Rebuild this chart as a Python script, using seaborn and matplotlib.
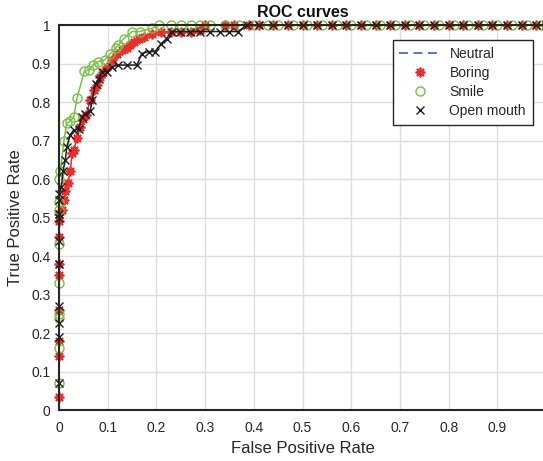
import matplotlib
matplotlib.use("Agg")
import matplotlib.pyplot as plt
from matplotlib.lines import Line2D
import seaborn as sns
import pandas as pd

# ---------------- data ----------------
neutral_fpr = [0.0, 0.0, 1.0]
neutral_tpr = [0.0, 1.0, 1.0]

boring_fpr = [0, 0, 0, 0, 0, 0, 0, 0, 0,
              0.006, 0.01, 0.013, 0.018, 0.023, 0.027, 0.03, 0.037, 0.044, 0.05,
              0.056, 0.064, 0.072, 0.078, 0.085, 0.09, 0.099, 0.109, 0.119, 0.129,
              0.14, 0.146, 0.153, 0.164, 0.174, 0.19, 0.21, 0.23, 0.25, 0.27, 0.29,
              0.30, 0.34, 0.36, 0.39, 0.41, 0.44, 0.47, 0.50, 0.53, 0.56, 0.59,
              0.62, 0.65, 0.68, 0.71, 0.74, 0.77, 0.80, 0.83, 0.86, 0.89, 0.92,
              0.95, 0.98, 1.0]
boring_tpr = [0.035, 0.14, 0.18, 0.26, 0.35, 0.38, 0.45, 0.49, 0.51,
              0.52, 0.545, 0.57, 0.59, 0.62, 0.667, 0.675, 0.706, 0.736, 0.755,
              0.766, 0.805, 0.83, 0.844, 0.866, 0.879, 0.892, 0.909, 0.926, 0.935,
              0.94, 0.948, 0.957, 0.965, 0.97, 0.978, 0.983, 0.983, 0.983, 0.983, 0.987,
              1.0, 1.0, 1.0, 1.0, 1.0, 1.0, 1.0, 1.0, 1.0, 1.0, 1.0,
              1.0, 1.0, 1.0, 1.0, 1.0, 1.0, 1.0, 1.0, 1.0, 1.0, 1.0,
              1.0, 1.0, 1.0]

smile_fpr = [0, 0, 0, 0, 0, 0, 0, 0, 0,
             0.003, 0.01, 0.016, 0.022, 0.03, 0.037, 0.052, 0.062, 0.07, 0.081,
             0.094, 0.105, 0.116, 0.122, 0.133, 0.15, 0.166, 0.19,
             0.205, 0.23, 0.25, 0.27, 0.29, 0.31, 0.34, 0.37, 0.40, 0.43, 0.45,
             0.48, 0.51, 0.54, 0.57, 0.60, 0.63, 0.66, 0.69, 0.72, 0.75, 0.78,
             0.81, 0.84, 0.87, 0.90, 0.93, 0.96, 0.99, 1.0]
smile_tpr = [0.07, 0.16, 0.24, 0.25, 0.33, 0.43, 0.52, 0.54, 0.60,
             0.62, 0.70, 0.745, 0.75, 0.76, 0.81, 0.88, 0.883, 0.896, 0.905,
             0.909, 0.925, 0.94, 0.948, 0.965, 0.983, 0.983, 0.991,
             1.0, 1.0, 1.0, 1.0, 1.0, 1.0, 1.0, 1.0, 1.0, 1.0, 1.0,
             1.0, 1.0, 1.0, 1.0, 1.0, 1.0, 1.0, 1.0, 1.0, 1.0, 1.0,
             1.0, 1.0, 1.0, 1.0, 1.0, 1.0, 1.0, 1.0]

open_fpr = [0, 0, 0, 0, 0, 0, 0, 0, 0, 0,
            0.005, 0.008, 0.013, 0.016, 0.023, 0.03, 0.04, 0.047, 0.054, 0.064,
            0.068, 0.075, 0.082, 0.088, 0.099, 0.109, 0.122, 0.14, 0.16, 0.17,
            0.184, 0.197, 0.21, 0.221, 0.231, 0.248, 0.269, 0.29, 0.31, 0.33,
            0.35, 0.368, 0.385, 0.41, 0.44, 0.47, 0.50, 0.53, 0.56, 0.59, 0.62,
            0.65, 0.68, 0.71, 0.74, 0.77, 0.80, 0.83, 0.86, 0.89, 0.92, 0.95,
            0.98, 1.0]
open_tpr = [0.07, 0.19, 0.225, 0.27, 0.38, 0.44, 0.50, 0.51, 0.545, 0.56,
            0.58, 0.62, 0.65, 0.684, 0.714, 0.727, 0.73, 0.76, 0.77, 0.776,
            0.805, 0.848, 0.86, 0.879, 0.879, 0.892, 0.896, 0.896, 0.896, 0.926,
            0.931, 0.931, 0.952, 0.965, 0.983, 0.983, 0.983, 0.983, 0.983, 0.983,
            0.983, 0.983, 1.0, 1.0, 1.0, 1.0, 1.0, 1.0, 1.0, 1.0, 1.0,
            1.0, 1.0, 1.0, 1.0, 1.0, 1.0, 1.0, 1.0, 1.0, 1.0, 1.0,
            1.0, 1.0]

labels = ["Neutral", "Boring", "Smile", "Open mouth"]
ticks = [0, 0.1, 0.2, 0.3, 0.4, 0.5, 0.6, 0.7, 0.8, 0.9, 1]
tick_labels = ["0", "0.1", "0.2", "0.3", "0.4", "0.5", "0.6", "0.7", "0.8", "0.9", "1"]

# ---------------- style ----------------
sns.set_theme(style="whitegrid")
plt.rcParams["font.family"] = ["Liberation Sans", "DejaVu Sans"]

C_NEU = "#4a6bbf"
C_BOR = "#ee2b2b"
C_SMI = "#76c043"
C_OPN = "#1e1e1e"

fig = plt.figure(figsize=(5.43, 4.61), dpi=100)
ax = fig.add_axes([0.1087, 0.1106, 0.8969, 0.8351])

sns.lineplot(x=neutral_fpr, y=neutral_tpr, ax=ax, sort=False, estimator=None,
             color=C_NEU, linestyle=(0, (5, 3)), linewidth=1.3)

BOR_M = dict(marker=(8, 2, 0), ms=7, mew=1.3)
SMI_M = dict(marker="o", ms=6.5, mew=1.0)
OPN_M = dict(marker="x", ms=6, mew=1.0)

series = [
    (boring_fpr, boring_tpr, C_BOR, dict(mec=C_BOR, mfc=C_BOR, **BOR_M)),
    (smile_fpr, smile_tpr, C_SMI, dict(mec=C_SMI, mfc="none", **SMI_M)),
    (open_fpr, open_tpr, C_OPN, dict(mec=C_OPN, mfc=C_OPN, **OPN_M)),
]
for fx, ty, col, mkw in series:
    df = pd.DataFrame({"fpr": fx, "tpr": ty})
    sns.lineplot(data=df, x="fpr", y="tpr", ax=ax, sort=False, estimator=None,
                 color=col, linewidth=1.1, clip_on=False, **mkw)

ax.set_xlim(0, 1)
ax.set_ylim(0, 1)
ax.set_xticks(ticks)
ax.set_xticklabels(tick_labels)
ax.set_yticks(ticks)
ax.set_yticklabels(tick_labels)
ax.tick_params(axis="both", direction="in", length=4, width=1.4, color="#262626",
               labelsize=10, labelcolor="#262626", pad=6)
ax.tick_params(axis="x", pad=8)
ax.grid(True, color="#dddddd", linewidth=1.0)
for s in ["left", "bottom", "top", "right"]:
    ax.spines[s].set_color("#262626")
    ax.spines[s].set_linewidth(1.5)

ax.set_xlabel("False Positive Rate", fontsize=12, color="#262626", labelpad=4)
ax.set_ylabel("True Positive Rate", fontsize=12, color="#262626", labelpad=6)
ax.set_title("ROC curves", fontsize=11.5, fontweight="bold", color="#111111", pad=6)

handles = [
    Line2D([], [], color=C_NEU, linestyle=(0, (5, 3)), linewidth=1.3),
    Line2D([], [], color=C_BOR, linestyle="none", **BOR_M),
    Line2D([], [], color=C_SMI, linestyle="none", mfc="none", **SMI_M),
    Line2D([], [], color=C_OPN, linestyle="none", **OPN_M),
]
leg = ax.legend(handles, labels, loc="upper right", bbox_to_anchor=(0.973, 0.961),
                fontsize=10, frameon=True, fancybox=False, framealpha=1,
                edgecolor="#262626", handlelength=3.0, handletextpad=0.6,
                labelspacing=0.35, borderpad=0.5, borderaxespad=0)
leg.get_frame().set_linewidth(1.0)
leg.set_zorder(5)

fig.savefig("out.png", dpi=100)
